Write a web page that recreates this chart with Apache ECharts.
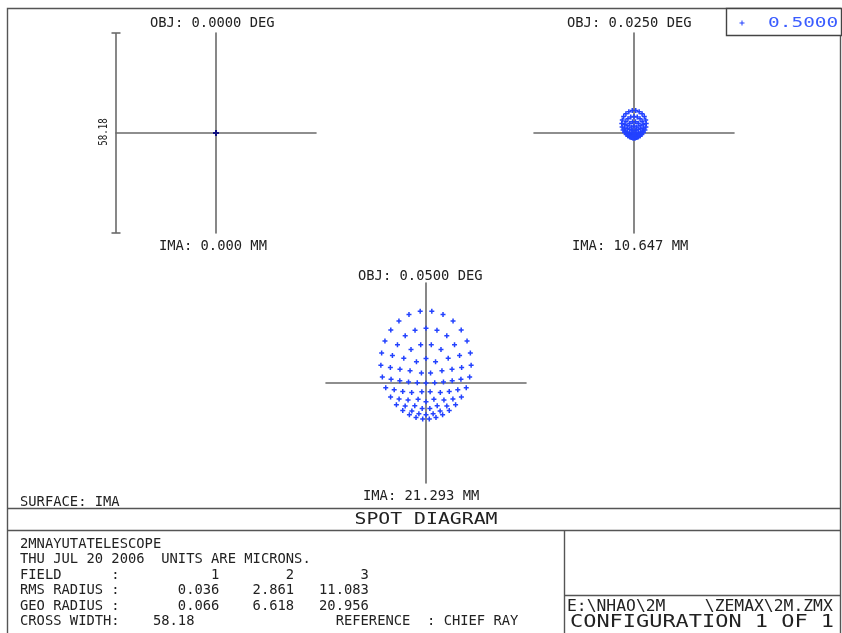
<!DOCTYPE html>
<html><head><meta charset="utf-8">
<script src="https://cdn.jsdelivr.net/npm/echarts@6/dist/echarts.min.js"></script>
<style>html,body{margin:0;padding:0;background:#fff}#c{width:842px;height:633px}</style>
</head><body><div id="c"></div>
<script>
// ---- data (microns, relative to chief ray) ----
const crossWidth = 58.18;
const fieldLabels = ['OBJ: 0.0000 DEG', 'OBJ: 0.0250 DEG', 'OBJ: 0.0500 DEG'];
const imaLabels = ['IMA: 0.000 MM', 'IMA: 10.647 MM', 'IMA: 21.293 MM'];
const wavelengthLabel = '0.5000';
const fieldNumbers = ['1', '2', '3'];
const rmsRadius = ['0.036', '2.861', '11.083'];
const geoRadius = ['0.066', '6.618', '20.956'];

const field1Spot = [[0,0],[0.03,0.02],[-0.03,0.02],[0.05,-0.03],[-0.05,-0.03],[0,0.06],[0,-0.06]];

const field2Spot = [
 [0,0],
 [0.35,0.77],[0.64,0.04],[0.29,-0.59],[-0.29,-0.59],[-0.64,0.04],[-0.35,0.77],
 [0,2.00],[0.76,1.71],[1.22,1.00],[1.27,0.14],[0.98,-0.58],[0.51,-1.01],[0,-1.16],[-0.51,-1.01],[-0.98,-0.58],[-1.27,0.14],[-1.22,1.00],[-0.76,1.71],
 [0.44,3.25],[1.23,2.83],[1.77,2.09],[1.99,1.20],[1.91,0.32],[1.59,-0.42],[1.15,-0.94],[0.68,-1.26],[0.22,-1.40],[-0.22,-1.40],[-0.68,-1.26],[-1.15,-0.94],[-1.59,-0.42],[-1.91,0.32],[-1.99,1.20],[-1.77,2.09],[-1.23,2.83],[-0.44,3.25],
 [0,4.83],[0.94,4.65],[1.76,4.13],[2.36,3.35],[2.69,2.42],[2.73,1.45],[2.54,0.56],[2.17,-0.18],[1.72,-0.74],[1.24,-1.11],[0.79,-1.33],[0.38,-1.44],[0,-1.47],[-0.38,-1.44],[-0.79,-1.33],[-1.24,-1.11],[-1.72,-0.74],[-2.17,-0.18],[-2.54,0.56],[-2.73,1.45],[-2.69,2.42],[-2.36,3.35],[-1.76,4.13],[-0.94,4.65],
 [0.51,6.52],[1.50,6.20],[2.35,5.60],[2.99,4.77],[3.40,3.79],[3.55,2.77],[3.46,1.77],[3.18,0.88],[2.75,0.13],[2.25,-0.44],[1.74,-0.84],[1.26,-1.08],[0.83,-1.22],[0.47,-1.29],[0.15,-1.31],[-0.15,-1.31],[-0.47,-1.29],[-0.83,-1.22],[-1.26,-1.08],[-1.74,-0.84],[-2.25,-0.44],[-2.75,0.13],[-3.18,0.88],[-3.46,1.77],[-3.55,2.77],[-3.40,3.79],[-2.99,4.77],[-2.35,5.60],[-1.50,6.20],[-0.51,6.52]
];

const field3Spot = [
 [0,0],
 [1.33,2.90],[2.54,0.07],[1.21,-2.55],[-1.21,-2.55],[-2.54,0.07],[-1.33,2.90],
 [0,7.14],[2.78,6.16],[4.64,3.57],[5.08,0.28],[4.16,-2.73],[2.30,-4.76],[0,-5.46],[-2.30,-4.76],[-4.16,-2.73],[-5.08,0.28],[-4.64,3.57],[-2.78,6.16],
 [1.54,11.16],[4.36,9.76],[6.46,7.23],[7.57,4.01],[7.62,0.63],[6.76,-2.46],[5.22,-4.92],[3.26,-6.61],[1.11,-7.45],[-1.11,-7.45],[-3.26,-6.61],[-5.22,-4.92],[-6.76,-2.46],[-7.62,0.63],[-7.57,4.01],[-6.46,7.23],[-4.36,9.76],[-1.54,11.16],
 [0,15.96],[3.19,15.38],[6.05,13.71],[8.30,11.15],[9.77,7.98],[10.37,4.53],[10.16,1.12],[9.25,-1.99],[7.83,-4.62],[6.06,-6.67],[4.11,-8.11],[2.07,-8.96],[0,-9.24],[-2.07,-8.96],[-4.11,-8.11],[-6.06,-6.67],[-7.83,-4.62],[-9.25,-1.99],[-10.16,1.12],[-10.37,4.53],[-9.77,7.98],[-8.30,11.15],[-6.05,13.71],[-3.19,15.38],
 [1.69,20.87],[4.95,19.90],[7.87,18.02],[10.24,15.39],[11.94,12.22],[12.90,8.74],[13.13,5.18],[12.70,1.75],[11.71,-1.37],[10.30,-4.08],[8.61,-6.30],[6.76,-8.02],[4.83,-9.27],[2.90,-10.06],[0.96,-10.45],[-0.96,-10.45],[-2.90,-10.06],[-4.83,-9.27],[-6.76,-8.02],[-8.61,-6.30],[-10.30,-4.08],[-11.71,-1.37],[-12.70,1.75],[-13.13,5.18],[-12.90,8.74],[-11.94,12.22],[-10.24,15.39],[-7.87,18.02],[-4.95,19.90],[-1.69,20.87]
];

// ---- chart ----
const spots = [field1Spot, field2Spot, field3Spot];
const half = crossWidth / 2;
const FONT = '"DejaVu Sans Mono", monospace';
const INK = '#222';
const BLUE = '#2342ff';
const LINE = '#555';
const plusPath = 'M3.5,0h3v3.5h3.5v3h-3.5v3.5h-3v-3.5h-3.5v-3h3.5z';

const grids = [
  {left: 116, top: 33, width: 200, height: 200},
  {left: 534, top: 33, width: 200, height: 200},
  {left: 326, top: 283, width: 200, height: 200}
];
function axis(i) {
  return {gridIndex: i, type: 'value', min: -half, max: half,
    axisLine: {show: true, onZero: true, lineStyle: {color: '#6a6a6a', width: 1.6}},
    axisTick: {show: false}, axisLabel: {show: false}, splitLine: {show: false}};
}

const chart = echarts.init(document.getElementById('c'), null, {renderer: 'canvas'});
chart.setOption({
  animation: false,
  backgroundColor: '#fff',
  grid: grids,
  xAxis: grids.map((g, i) => axis(i)),
  yAxis: grids.map((g, i) => axis(i)),
  series: spots.map((d, i) => ({
    type: 'scatter', name: wavelengthLabel, xAxisIndex: i, yAxisIndex: i,
    data: d, symbol: 'path://' + plusPath, symbolSize: 5, silent: true,
    itemStyle: {color: i === 0 ? '#101080' : BLUE, opacity: 1}
  }))
});

function txt(s, x, y, o) {
  o = o || {};
  return {type: 'text', x: x, y: y, scaleX: o.sx || 1, rotation: o.rot || 0, silent: true, z: 10,
    style: {text: s, x: 0, y: 0, fill: o.fill || INK,
      font: (o.size || 13.8) + 'px ' + FONT,
      textAlign: o.align || 'left', align: o.align || 'left',
      textVerticalAlign: 'middle', verticalAlign: 'middle'}};
}
function ln(x1, y1, x2, y2, w, c) {
  return {type: 'line', silent: true, z: 5, shape: {x1, y1, x2, y2},
    style: {stroke: c || LINE, lineWidth: w || 1.4}};
}

// scale bar from the first plot's axes
const pTop = chart.convertToPixel({gridIndex: 0}, [-half, half]);
const pBot = chart.convertToPixel({gridIndex: 0}, [-half, -half]);
const bx = pTop[0];

const g = [];
// frame
g.push({type: 'rect', silent: true, z: 4, shape: {x: 7.5, y: 8.5, width: 833, height: 640},
  style: {fill: 'none', stroke: LINE, lineWidth: 1.4}});
g.push(ln(7.5, 508.5, 840.5, 508.5));
g.push(ln(7.5, 530.5, 840.5, 530.5));
g.push(ln(564.5, 530.5, 564.5, 640));
g.push(ln(564.5, 595.5, 840.5, 595.5));
// scale bar
g.push(ln(bx, pTop[1], bx, pBot[1], 1.6, '#6a6a6a'));
g.push(ln(bx - 4.5, pTop[1], bx + 4.5, pTop[1], 1.6, '#6a6a6a'));
g.push(ln(bx - 4.5, pBot[1], bx + 4.5, pBot[1], 1.6, '#6a6a6a'));
g.push(txt(String(crossWidth), bx - 12, (pTop[1] + pBot[1]) / 2 - 1, {align: 'center', rot: Math.PI / 2, size: 13, sx: 0.7}));
// plot labels
g.push(txt(fieldLabels[0], 150, 23.5));
g.push(txt(fieldLabels[1], 567, 23.5));
g.push(txt(imaLabels[0], 159, 246.5));
g.push(txt(imaLabels[1], 572, 246.5));
g.push(txt(fieldLabels[2], 358, 276));
g.push(txt(imaLabels[2], 363, 496));
g.push(txt('SURFACE: IMA', 20, 502));
// legend box
g.push({type: 'rect', silent: true, z: 6, shape: {x: 726.5, y: 8.5, width: 115, height: 27},
  style: {fill: '#fff', stroke: '#444', lineWidth: 1.4}});
g.push({type: 'polygon', silent: true, z: 10, x: 739.5, y: 20.5,
  shape: {points: [[2,0],[3,0],[3,2],[5,2],[5,3],[3,3],[3,5],[2,5],[2,3],[0,3],[0,2],[2,2]]},
  style: {fill: BLUE}});
g.push(txt(wavelengthLabel, 768, 23, {fill: '#3a5cff', sx: 1.39, size: 14}));
// title bar
g.push(txt('SPOT DIAGRAM', 426, 519.5, {align: 'center', sx: 1.2, size: 16.5}));
// info text
const pad9 = s => ' '.repeat(9 - s.length) + s;
g.push(txt('2MNAYUTATELESCOPE', 20, 544));
g.push(txt('THU JUL 20 2006  UNITS ARE MICRONS.', 20, 559.5));
g.push(txt('FIELD      :   ' + fieldNumbers.map(pad9).join(''), 20, 575));
g.push(txt('RMS RADIUS :   ' + rmsRadius.map(pad9).join(''), 20, 590.5));
g.push(txt('GEO RADIUS :   ' + geoRadius.map(pad9).join(''), 20, 606));
g.push(txt('CROSS WIDTH:    ' + crossWidth + ' '.repeat(17) + 'REFERENCE  : CHIEF RAY', 20, 621.5));
g.push(txt('E:\\NHAO\\2M    \\ZEMAX\\2M.ZMX', 567, 607, {size: 15, sx: 1.09}));
g.push(txt('CONFIGURATION 1 OF 1', 570, 623, {size: 17, sx: 1.29}));

chart.setOption({graphic: {elements: g}});
</script>
</body></html>
